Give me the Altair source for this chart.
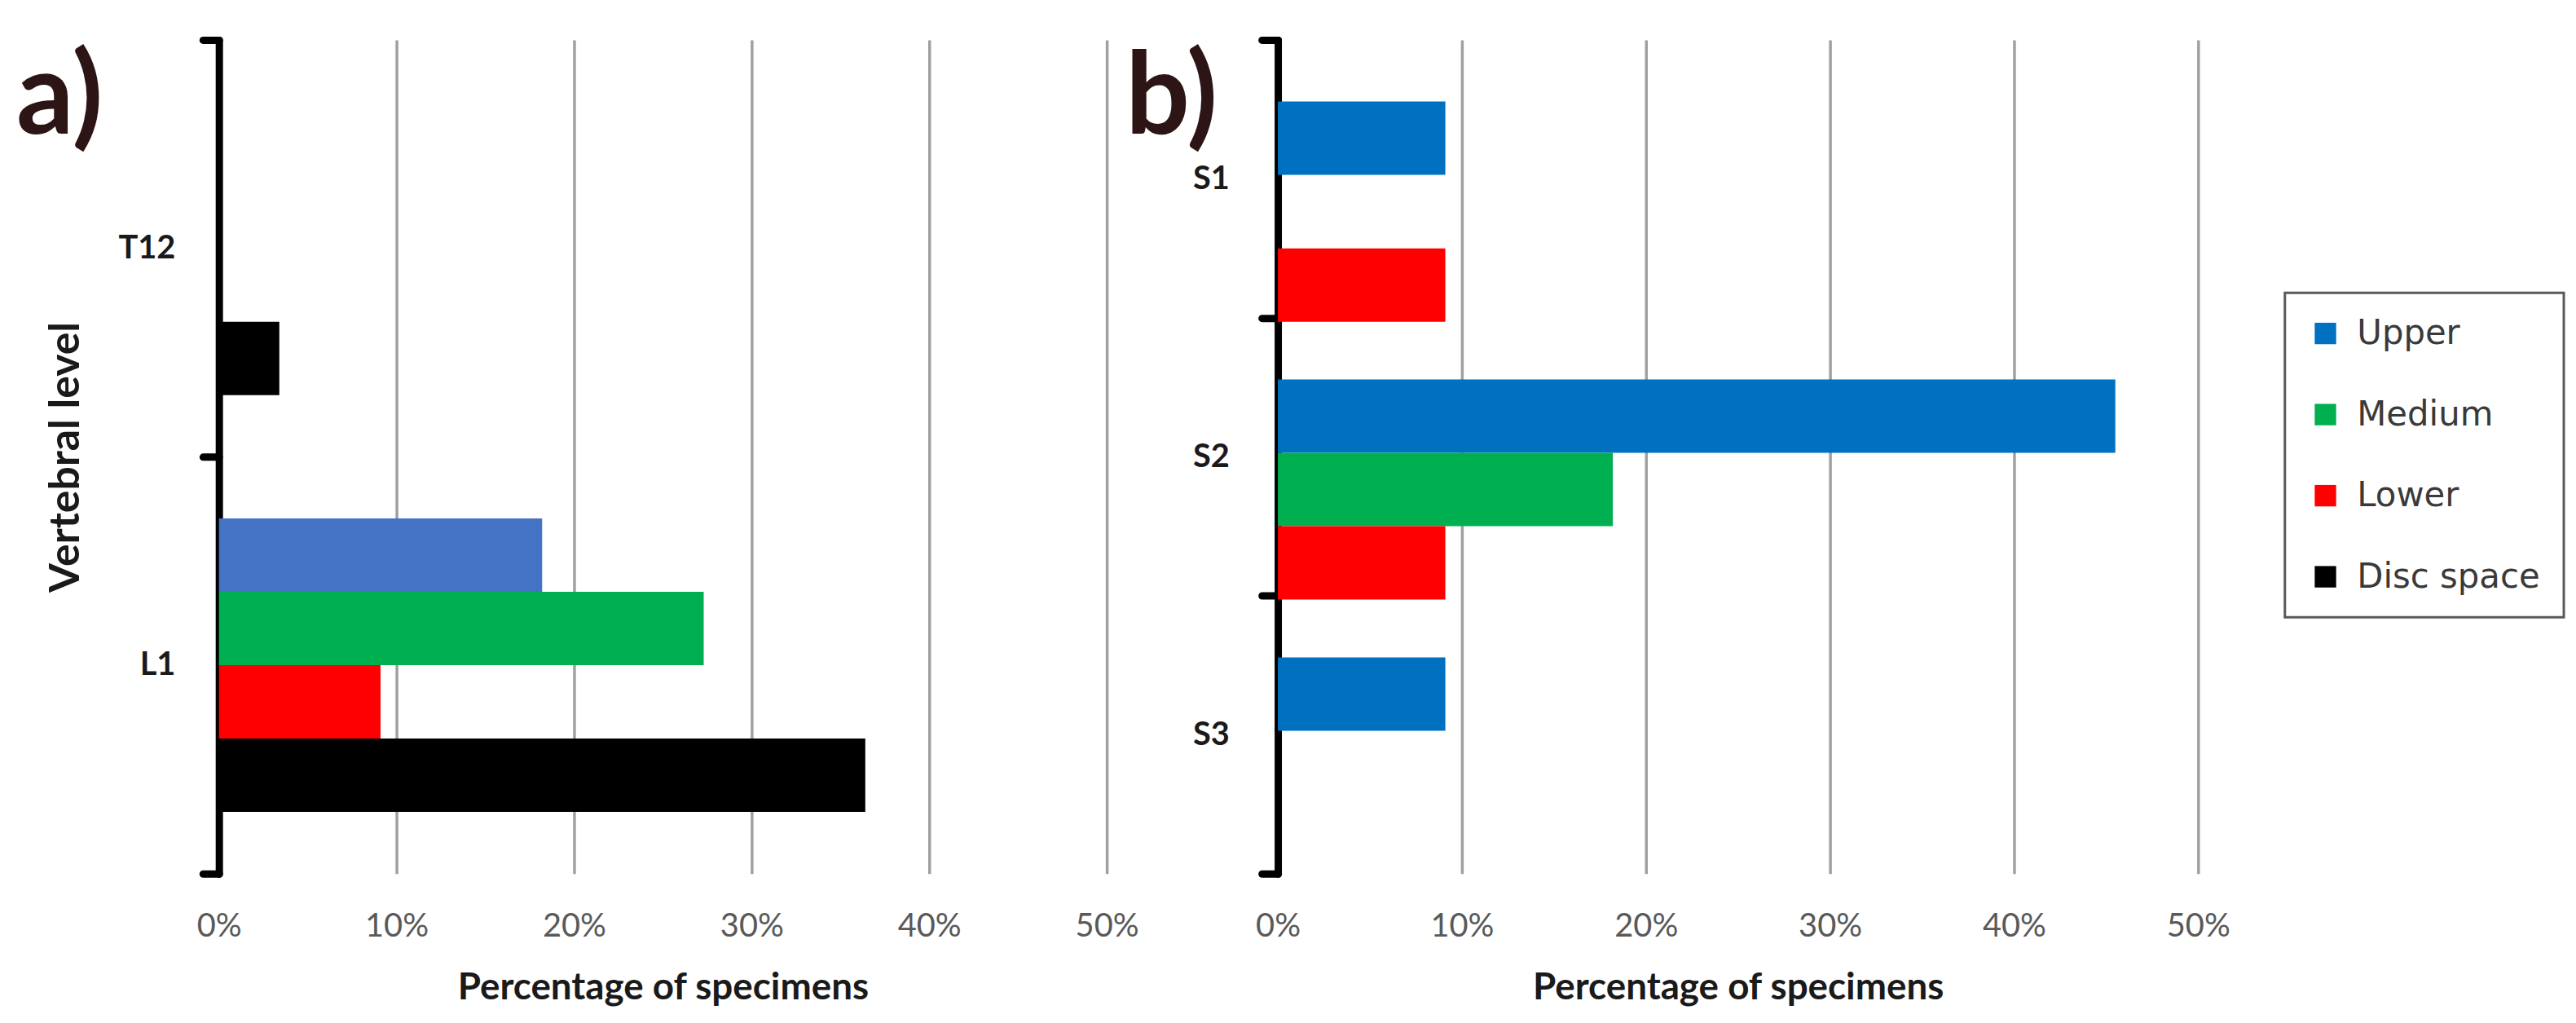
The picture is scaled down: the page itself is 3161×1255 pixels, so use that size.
import altair as alt
import pandas as pd

# ---------------- data ----------------
positions = ["Upper", "Medium", "Lower", "Disc space"]

levels_a = ["T12", "L1"]
a_level = ["T12", "L1", "L1", "L1", "L1"]
a_pos = ["Disc space", "Upper", "Medium", "Lower", "Disc space"]
a_val = [0.034, 0.182, 0.273, 0.091, 0.364]

levels_b = ["S1", "S2", "S3"]
b_level = ["S1", "S1", "S2", "S2", "S2", "S3"]
b_pos = ["Upper", "Lower", "Upper", "Medium", "Lower", "Upper"]
b_val = [0.091, 0.091, 0.455, 0.182, 0.091, 0.091]

colors_a = ["#4472C4", "#00B050", "#FF0000", "#000000"]
colors_b = ["#0070C0", "#00B050", "#FF0000", "#000000"]
x_ticks = [0, 0.1, 0.2, 0.3, 0.4, 0.5]

df_a = pd.DataFrame({"level": a_level, "pos": a_pos, "value": a_val})
df_b = pd.DataFrame({"level": b_level, "pos": b_pos, "value": b_val})

FONT = "Lato"
H = 1028


def panel(df, levels, colors, width, pad_outer, ytitle, letter, letter_dx,
          label_pad, legend):
    xenc = alt.X(
        "value:Q",
        scale=alt.Scale(domain=[0, 0.5], nice=False, zero=True),
        axis=alt.Axis(
            values=x_ticks, format=".0%", title="Percentage of specimens",
            domain=False, ticks=False, grid=True, gridColor="#a0a0a0",
            gridWidth=3.5, labelFont=FONT, labelFontSize=40,
            labelColor="#595959", labelPadding=45, labelFlush=False,
            titleFont=FONT, titleFontSize=46, titleFontWeight="bold",
            titleColor="#1a1a1a", titlePadding=34,
        ),
    )
    yaxis_kw = dict(
        tickBand="extent", tickSize=20, tickWidth=9, tickColor="#000000",
        tickCap="round", domainColor="#000000", domainWidth=9,
        domainCap="round", grid=False, labelFont=FONT, labelFontSize=40,
        labelFontWeight="bold", labelColor="#1a1a1a", labelPadding=label_pad,
        labelAngle=0, titleFont=FONT, titleFontSize=52,
        titleFontWeight="bold", titleColor="#1a1a1a", titlePadding=38,
        title=ytitle,
    )
    yenc = alt.Y(
        "level:N", sort=levels,
        scale=alt.Scale(domain=levels, paddingInner=0, paddingOuter=0),
        axis=alt.Axis(**yaxis_kw),
    )
    yoff = alt.YOffset(
        "pos:N", sort=positions,
        scale=alt.Scale(domain=positions, paddingInner=0,
                        paddingOuter=pad_outer),
    )
    cenc = alt.Color(
        "pos:N", sort=positions,
        scale=alt.Scale(domain=positions, range=colors),
        legend=legend,
    )
    bars = alt.Chart(df).mark_bar(strokeWidth=0).encode(
        x=xenc, y=yenc, yOffset=yoff, color=cenc
    )
    lab = alt.Chart(pd.DataFrame({"t": [letter]})).mark_text(
        font=FONT, fontSize=140, fontWeight="bold", color="#2d1515",
        align="left", baseline="alphabetic",
    ).encode(x=alt.value(letter_dx), y=alt.value(116), text="t:N")
    return alt.layer(bars, lab).properties(width=width, height=H)


legend_b = alt.Legend(
    title=None, orient="none", legendX=1242, legendY=312,
    labelFont="DejaVu Sans", labelFontSize=42, labelColor="#3a3a3a",
    labelLimit=500,
    symbolType="square", symbolSize=700, symbolStrokeWidth=0,
    rowPadding=58, padding=29, labelOffset=18, strokeColor="#595959",
)

pa = panel(df_a, levels_a, colors_a, 1095, 0.84, "Vertebral level", "a)",
           -250, 34, None)
pb = panel(df_b, levels_b, colors_b, 1135, 0.0, None, "b)", -188, 40,
           legend_b)

chart = (
    alt.hconcat(pa, pb, spacing=211, bounds="flush")
    .resolve_scale(color="independent", x="independent", y="independent")
    .configure_view(stroke=None)
    .configure_legend(strokeWidth=3, cornerRadius=0)
    .properties(padding={"left": 12, "top": 18, "right": 5, "bottom": 5},
                background="white")
)

chart.save("out.html", embed_options={"renderer": "svg", "actions": False})
